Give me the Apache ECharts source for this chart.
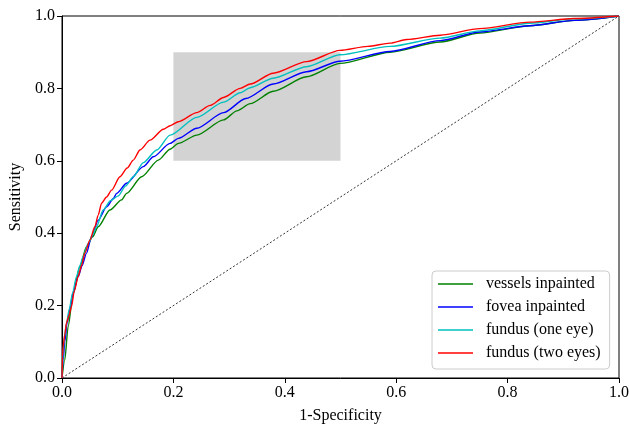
<!DOCTYPE html>
<html>
<head>
<meta charset="utf-8">
<script src="https://cdn.jsdelivr.net/npm/echarts@6/dist/echarts.min.js"></script>
<style>
  html, body { margin: 0; padding: 0; background: #fff; }
  #chart { width: 629px; height: 430px; }
</style>
</head>
<body>
<div id="chart"></div>
<script>
// ROC curves: [1 - specificity, sensitivity]
const seriesNames = ['vessels inpainted', 'fovea inpainted', 'fundus (one eye)', 'fundus (two eyes)'];
const seriesColors = ['#008000', '#0000ff', '#00bfbf', '#ff0000'];

const vesselsInpainted = [
  [0, 0], [0.005, 0.05], [0.011, 0.142], [0.02, 0.234], [0.032, 0.307], [0.044, 0.363],
  [0.055, 0.39], [0.065, 0.418], [0.086, 0.464], [0.107, 0.492], [0.116, 0.51],
  [0.143, 0.556], [0.173, 0.602], [0.194, 0.632], [0.209, 0.648], [0.242, 0.671],
  [0.29, 0.713], [0.314, 0.738], [0.338, 0.758], [0.379, 0.792], [0.439, 0.832],
  [0.499, 0.869], [0.589, 0.9], [0.679, 0.928], [0.75, 0.953], [0.84, 0.973],
  [0.92, 0.988], [1, 1]
];
const foveaInpainted = [
  [0, 0], [0.002, 0.05], [0.005, 0.1], [0.009, 0.15], [0.014, 0.19], [0.02, 0.235],
  [0.029, 0.28], [0.036, 0.31], [0.044, 0.345], [0.053, 0.39], [0.065, 0.436],
  [0.08, 0.473], [0.092, 0.495], [0.098, 0.51], [0.116, 0.538], [0.146, 0.584],
  [0.164, 0.611], [0.194, 0.648], [0.209, 0.662], [0.242, 0.69], [0.29, 0.733],
  [0.33, 0.772], [0.379, 0.812], [0.439, 0.846], [0.499, 0.875], [0.589, 0.902],
  [0.679, 0.932], [0.75, 0.956], [0.84, 0.973], [0.92, 0.988], [1, 1]
];
const fundusOneEye = [
  [0, 0], [0.002, 0.07], [0.004, 0.11], [0.008, 0.15], [0.013, 0.19], [0.019, 0.235],
  [0.026, 0.28], [0.032, 0.31], [0.038, 0.335], [0.047, 0.372], [0.055, 0.395],
  [0.062, 0.418], [0.074, 0.464], [0.087, 0.49], [0.101, 0.503], [0.114, 0.53],
  [0.128, 0.556], [0.146, 0.595], [0.17, 0.63], [0.194, 0.671], [0.242, 0.72],
  [0.29, 0.762], [0.32, 0.788], [0.338, 0.802], [0.379, 0.828], [0.439, 0.86],
  [0.499, 0.893], [0.589, 0.916], [0.679, 0.939], [0.75, 0.959], [0.84, 0.98],
  [0.92, 0.992], [1, 1]
];
const fundusTwoEyes = [
  [0, 0], [0.001, 0.06], [0.002, 0.086], [0.005, 0.12], [0.008, 0.152], [0.012, 0.17],
  [0.017, 0.197], [0.022, 0.24], [0.029, 0.28], [0.035, 0.31], [0.041, 0.345],
  [0.05, 0.381], [0.059, 0.418], [0.065, 0.45], [0.071, 0.483], [0.08, 0.5],
  [0.089, 0.519], [0.104, 0.556], [0.117, 0.58], [0.128, 0.602], [0.14, 0.63],
  [0.158, 0.657], [0.182, 0.687], [0.194, 0.697], [0.209, 0.708], [0.242, 0.733],
  [0.266, 0.753], [0.29, 0.775], [0.32, 0.8], [0.338, 0.812], [0.379, 0.842],
  [0.439, 0.874], [0.499, 0.905], [0.549, 0.916], [0.589, 0.925], [0.619, 0.935],
  [0.679, 0.947], [0.75, 0.965], [0.84, 0.983], [0.92, 0.993], [1, 1]
];
const chanceLine = [[0, 0], [1, 1]];

// highlighted region [x0, y0, x1, y1]
const zoomBox = [0.2, 0.6, 0.5, 0.9];

const curves = [vesselsInpainted, foveaInpainted, fundusOneEye, fundusTwoEyes];
const FONT = '"Liberation Serif", "Times New Roman", serif';

const chart = echarts.init(document.getElementById('chart'), null, { renderer: 'canvas' });

function axisCommon(name, gap) {
  return {
    type: 'value', min: 0, max: 1, interval: 0.2,
    name: name, nameLocation: 'middle', nameGap: gap,
    nameTextStyle: { color: '#000', fontFamily: FONT, fontSize: 16 },
    axisLine: { show: true, onZero: false, lineStyle: { color: '#000', width: 1 } },
    axisTick: { show: true, inside: false, length: 5, lineStyle: { color: '#000', width: 1 } },
    axisLabel: {
      color: '#000', fontFamily: FONT, fontSize: 16, margin: 7,
      formatter: v => v.toFixed(1)
    },
    splitLine: { show: false }
  };
}

const series = [
  {
    name: 'chance', type: 'line', data: chanceLine, symbol: 'none', silent: true,
    lineStyle: { color: '#000', width: 0.8, type: [2, 2] }, z: 1,
    markArea: {
      silent: true,
      itemStyle: { color: '#d3d3d3', opacity: 1 },
      data: [[{ coord: [zoomBox[0], zoomBox[3]] }, { coord: [zoomBox[2], zoomBox[1]] }]]
    }
  }
];
curves.forEach((d, i) => {
  series.push({
    name: seriesNames[i], type: 'line', data: d, symbol: 'none',
    smooth: 0.25, smoothMonotone: 'x',
    lineStyle: { color: seriesColors[i], width: 1.4 },
    itemStyle: { color: seriesColors[i] },
    z: 3 + i
  });
});

chart.setOption({
  animation: false,
  backgroundColor: '#fff',
  grid: {
    left: 62, right: 10, top: 16, bottom: 52,
    outerBoundsMode: 'none', containLabel: false,
    show: true, borderColor: '#000', borderWidth: 1
  },
  xAxis: axisCommon('1-Specificity', 30),
  yAxis: axisCommon('Sensitivity', 38),
  legend: {
    data: seriesNames,
    orient: 'vertical',
    left: 432, top: 271,
    icon: 'rect', itemWidth: 35, itemHeight: 1.5,
    itemGap: 7,
    padding: [5, 9, 8, 6],
    backgroundColor: 'rgba(255,255,255,0.8)',
    borderColor: '#cccccc', borderWidth: 1, borderRadius: 4,
    textStyle: { color: '#000', fontFamily: FONT, fontSize: 16, lineHeight: 16, padding: [0, 0, 0, 8] },
    selectedMode: false
  },
  series: series
});
</script>
</body>
</html>
